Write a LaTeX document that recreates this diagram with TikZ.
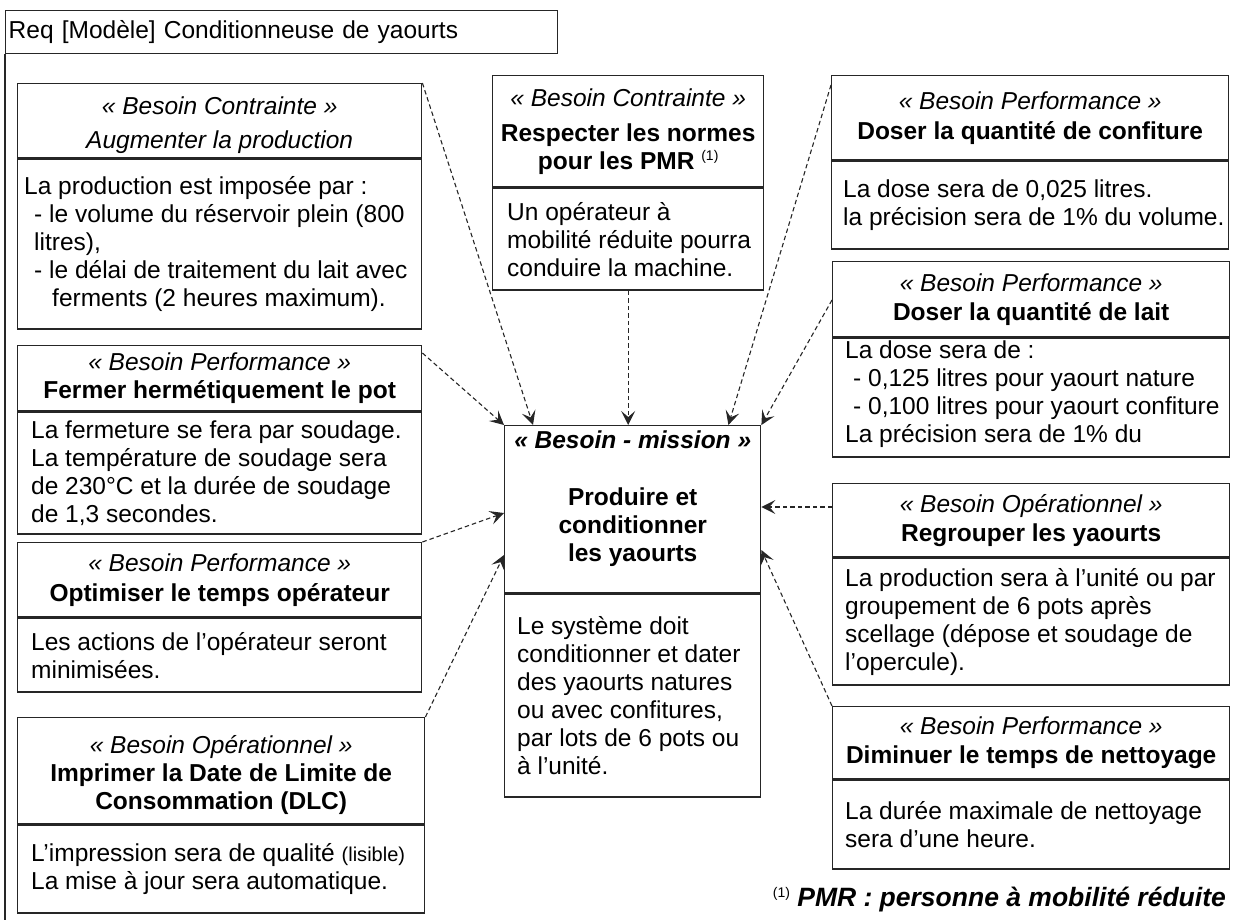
\documentclass[tikz,border=0pt]{standalone}
\usepackage{fontspec}
\setmainfont{Liberation Sans}
\usetikzlibrary{arrows.meta}
\newcommand\txtsize{\fontsize{24.5}{28}\selectfont}
\newcommand\stereo[1]{\textit{« #1 »}}
\newcommand\noteref{{\fontsize{14}{14}\selectfont\raisebox{9pt}{(1)}}}
\newcommand\topstrut{\rule{0pt}{26pt}}

\tikzset{
  boxline/.style={draw=black!85, line width=1.4pt},
  cell/.style={boxline, rectangle, inner sep=0pt, anchor=north west},
  hdr/.style={cell, align=center, font=\txtsize},
  btxt/.style={inner sep=0pt, align=left, anchor=west, font=\txtsize},
  link/.style={draw=black!85, line width=1.1pt, dash pattern=on 4.5pt off 3pt,
    -{Stealth[length=14pt,width=14pt,inset=6pt]}},
}

\begin{document}
\begin{tikzpicture}[x=1pt,y=-1pt]
\useasboundingbox (0,0) rectangle (1247,920);

% diagram frame
\node[cell, text width=546pt, inner xsep=3pt, minimum height=43pt, align=left, font=\txtsize]
  (title) at (5,10) {Req [Modèle] Conditionneuse de yaourts};
\coordinate (framebottom) at (5,920);
\draw[boxline] (title.south west) -- (framebottom);

% central requirement
\node[cell, minimum width=256pt, minimum height=167pt] (mH) at (504,425) {};
\node[cell, minimum width=256pt, minimum height=203pt] (mB) at (mH.south west) {};
\node[inner sep=0pt, font=\txtsize\bfseries\itshape] (mS) at ([yshift=-15pt]mH.north) {« Besoin - mission »};
\node[inner sep=0pt, font=\txtsize\bfseries, align=center, anchor=north] (mT) at ([yshift=-63pt]mH.north)
  {Produire et\\conditionner\\les yaourts};
\node[btxt] (mX) at ([xshift=13pt]mB.west)
  {Le système doit\\conditionner et dater\\des yaourts natures\\ou avec confitures,\\par lots de 6 pots ou\\à l’unité.};

% Augmenter la production
\node[hdr, minimum width=404pt, minimum height=74pt] (aH) at (17,83)
  {\topstrut\stereo{Besoin Contrainte}\\[6pt]\textit{Augmenter la production}};
\node[cell, minimum width=404pt, minimum height=170pt] (aB) at (aH.south west) {};
\node[btxt] (aX) at ([xshift=7pt]aB.west)
  {La production est imposée par :\\\hspace*{10pt}- le volume du réservoir plein (800\\\hspace*{10pt}litres),\\\hspace*{10pt}- le délai de traitement du lait avec\\\hspace*{28pt}ferments (2 heures maximum).};

% Respecter les normes PMR
\node[hdr, minimum width=271pt, minimum height=111pt] (bH) at (492,75)
  {\stereo{Besoin Contrainte}\\[7pt]\textbf{Respecter les normes}\\\textbf{pour les PMR} \noteref};
\node[cell, minimum width=271pt, minimum height=102pt] (bB) at (bH.south west) {};
\node[btxt] (bX) at ([xshift=15pt]bB.west)
  {Un opérateur à\\mobilité réduite pourra\\conduire la machine.};

% Doser la quantite de confiture
\node[hdr, minimum width=397pt, minimum height=84pt] (cH) at (831,75)
  {\stereo{Besoin Performance}\\[2pt]\textbf{Doser la quantité de confiture}};
\node[cell, minimum width=397pt, minimum height=88pt] (cB) at (cH.south west) {};
\node[btxt] (cX) at ([xshift=12pt]cB.west)
  {La dose sera de 0,025 litres.\\la précision sera de 1\% du volume.};

% Doser la quantite de lait
\node[hdr, minimum width=397pt, minimum height=75pt] (dH) at (832,261)
  {\stereo{Besoin Performance}\\[1pt]\textbf{Doser la quantité de lait}};
\node[cell, minimum width=397pt, minimum height=119pt] (dB) at (dH.south west) {};
\node[btxt] (dX) at ([xshift=13pt,yshift=3pt]dB.west)
  {La dose sera de :\\\hspace*{8pt}- 0,125 litres pour yaourt nature\\\hspace*{8pt}- 0,100 litres pour yaourt confiture\\La précision sera de 1\% du};

% Fermer hermetiquement le pot
\node[hdr, minimum width=404pt, minimum height=65pt] (eH) at (17,345)
  {\stereo{Besoin Performance}\\\textbf{Fermer hermétiquement le pot}};
\node[cell, minimum width=404pt, minimum height=122pt] (eB) at (eH.south west) {};
\node[btxt] (eX) at ([xshift=14pt]eB.west)
  {La fermeture se fera par soudage.\\La température de soudage sera\\de 230°C et la durée de soudage\\de 1,3 secondes.};

% Optimiser le temps operateur
\node[hdr, minimum width=404pt, minimum height=74pt] (fH) at (17,542)
  {\stereo{Besoin Performance}\\[2pt]\textbf{Optimiser le temps opérateur}};
\node[cell, minimum width=404pt, minimum height=74pt] (fB) at (fH.south west) {};
\node[btxt] (fX) at ([xshift=14pt]fB.west)
  {Les actions de l’opérateur seront\\minimisées.};

% Imprimer la DLC
\node[hdr, minimum width=407pt, minimum height=106pt] (gH) at (17,717)
  {\topstrut\stereo{Besoin Opérationnel}\\\textbf{Imprimer la Date de Limite de}\\\textbf{Consommation (DLC)}};
\node[cell, minimum width=407pt, minimum height=88pt] (gB) at (gH.south west) {};
\node[btxt] (gX) at ([xshift=14pt]gB.west)
  {L’impression sera de qualité {\fontsize{20}{20}\selectfont(lisible)}\\La mise à jour sera automatique.};

% Regrouper les yaourts
\node[hdr, minimum width=397pt, minimum height=73pt] (hH) at (832,483)
  {\stereo{Besoin Opérationnel}\\[1pt]\textbf{Regrouper les yaourts}};
\node[cell, minimum width=397pt, minimum height=127pt] (hB) at (hH.south west) {};
\node[btxt] (hX) at ([xshift=13pt]hB.west)
  {La production sera à l’unité ou par\\groupement de 6 pots après\\scellage (dépose et soudage de\\l’opercule).};

% Diminuer le temps de nettoyage
\node[hdr, minimum width=397pt, minimum height=72pt] (iH) at (832,706)
  {\stereo{Besoin Performance}\\[1pt]\textbf{Diminuer le temps de nettoyage}};
\node[cell, minimum width=397pt, minimum height=89pt] (iB) at (iH.south west) {};
\node[btxt] (iX) at ([xshift=13pt]iB.west)
  {La durée maximale de nettoyage\\sera d’une heure.};

% footnote
\node[inner sep=0pt, anchor=east, font=\fontsize{26.5}{30}\selectfont] (note) at (1226,900)
  {\noteref\ \textbf{\textit{PMR : personne à mobilité réduite}}};

% refinement links towards the mission
\draw[link] (aH.north east) -- ([xshift=29pt]mH.north west);
\draw[link] (bB.south) -- (mH.north -| bB.south);
\draw[link] ([yshift=-10pt]cH.north west) -- ([xshift=-33pt]mH.north east);
\draw[link] ([yshift=-39pt]dH.north west) -- (mH.north east);
\draw[link] ([yshift=-8pt]eH.north east) -- (mH.north west);
\draw[link] (fH.north east) -- ([yshift=-88pt]mH.north west);
\draw[link] (gH.north east) -- ([yshift=-130pt]mH.north west);
\draw[link] ([yshift=-24pt]hH.north west) -- ([yshift=-82pt]mH.north east);
\draw[link] (iH.north west) -- ([yshift=-125pt]mH.north east);
\end{tikzpicture}
\end{document}
